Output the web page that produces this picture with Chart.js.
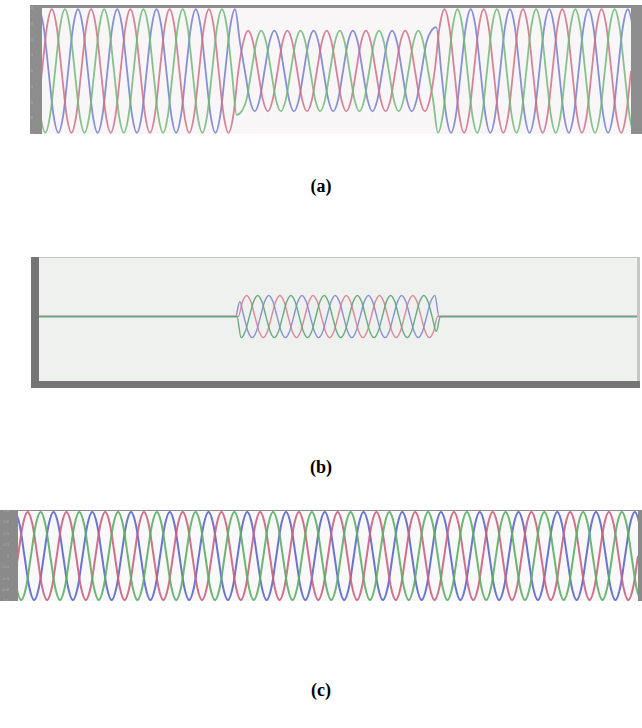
<!DOCTYPE html>
<html>
<head>
<meta charset="utf-8">
<script src="https://cdn.jsdelivr.net/npm/chart.js@4.4.1/dist/chart.umd.min.js"></script>
<style>
  body { margin: 0; width: 642px; height: 728px; background: #fff; position: relative; overflow: hidden; }
  .panel { position: absolute; }
  .panel canvas { display: block; }
</style>
</head>
<body>
<div class="panel" style="left:30px;top:5px;width:612px;height:129px;background:#8d8d8d">
  <canvas id="chartA" width="612" height="129"></canvas>
</div>
<div style="position:absolute;left:0;width:642px;text-align:center;top:176px;font-family:'Liberation Serif';font-weight:bold;font-size:18px">(a)</div>

<div class="panel" style="left:31px;top:257px;width:609px;height:131px;background:#c6c6c6">
  <canvas id="chartB" width="609" height="131"></canvas>
</div>
<div style="position:absolute;left:0;width:642px;text-align:center;top:457px;font-family:'Liberation Serif';font-weight:bold;font-size:18px">(b)</div>

<div class="panel" style="left:0px;top:510px;width:642px;height:91px;background:#8a8a8a">
  <canvas id="chartC" width="642" height="91"></canvas>
</div>
<div style="position:absolute;left:0;width:642px;text-align:center;top:680px;font-family:'Liberation Serif';font-weight:bold;font-size:18px">(c)</div>

<script>
// three phases
const phases = ['A', 'B', 'C'];
const phaseAngles = [0, -120, 120];
// one cycle, read at eighth-cycle points
const waveShape = [0, 0.71, 1, 0.71, 0, -0.71, -1, -0.71];

// (a) supply voltage with sag
const freqA = 50;
const segTimesA = [0, 0.1, 0.2, 0.3];
const segAmpA = [0.98, 0.64, 0.98];

// (b) injected voltage
const freqB = 60;
const segTimesB = [0, 0.1, 0.2, 0.3];
const segAmpB = [0, 0.36, 0];

// (c) load voltage
const freqC = 50;
const segTimesC = [0, 0.32];
const segAmpC = [0.98];

function ampAt(t, segTimes, segAmp) {
    for (let i = 0; i < segAmp.length; i++) {
        if (t < segTimes[i + 1]) return segAmp[i];
    }
    return segAmp[segAmp.length - 1];
}

function buildSeries(freq, segTimes, segAmp, angle) {
    const T = 1 / freq;
    const n = waveShape.length;
    const step = T / n;
    const shift = -angle / 360 * T;
    const tEnd = segTimes[segTimes.length - 1];
    const pts = [];
    for (let k = -2 * n; ; k++) {
        const t = shift + k * step;
        if (t > tEnd + T) break;
        const a = ampAt(Math.max(t, 0), segTimes, segAmp);
        pts.push({ x: t, y: a * waveShape[((k % n) + n) % n] });
    }
    return pts;
}

// plot background + dark strips left/bottom of the plot
const plotBg = {
    id: 'plotBg',
    beforeDraw(chart, args, o) {
        const { ctx, chartArea: a, width, height } = chart;
        ctx.save();
        if (o.strip) {
            ctx.fillStyle = o.strip;
            ctx.fillRect(0, 0, a.left, height);
            ctx.fillRect(0, a.bottom, width, height - a.bottom);
        }
        ctx.fillStyle = o.color;
        ctx.fillRect(a.left, a.top, a.right - a.left, a.bottom - a.top);
        ctx.restore();
    }
};

function makeChart(id, cfg) {
    const datasets = phases.map((name, i) => ({
        label: name,
        data: buildSeries(cfg.freq, cfg.segTimes, cfg.segAmp, phaseAngles[i]),
        borderColor: cfg.colors[i],
        borderWidth: cfg.lineWidth,
        pointRadius: 0,
        cubicInterpolationMode: 'monotone',
        order: [1, 0, 2][i]
    }));
    const tEnd = cfg.segTimes[cfg.segTimes.length - 1];
    return new Chart(document.getElementById(id), {
        type: 'line',
        data: { datasets: datasets },
        options: {
            responsive: false,
            animation: false,
            devicePixelRatio: 1,
            layout: { padding: cfg.padding },
            plugins: {
                legend: { display: false },
                tooltip: { enabled: false },
                plotBg: { color: cfg.bg, strip: cfg.strip }
            },
            scales: {
                x: {
                    type: 'linear', min: 0, max: tEnd,
                    display: cfg.xAxis,
                    grid: { display: false }, border: { display: false },
                    ticks: { stepSize: 0.05, font: { size: 4 }, color: '#a5a5a5', padding: 1, maxRotation: 0 },
                    afterFit: s => { s.height = cfg.xHeight; s.paddingLeft = 0; s.paddingRight = 0; }
                },
                y: {
                    min: cfg.yMin, max: cfg.yMax,
                    grid: { display: false }, border: { display: false },
                    ticks: { stepSize: 0.25, font: { size: 4 }, color: '#adadad', padding: 1 },
                    afterFit: s => { s.width = cfg.yWidth; s.paddingTop = 0; s.paddingBottom = 0; }
                }
            }
        },
        plugins: [plotBg]
    });
}

makeChart('chartA', {
    freq: freqA, segTimes: segTimesA, segAmp: segAmpA,
    colors: ['rgba(208,110,134,0.85)', 'rgba(112,184,120,0.85)', 'rgba(116,124,206,0.85)'],
    lineWidth: 1.8, bg: '#f8f6f7',
    padding: { top: 3, right: 11, bottom: 0, left: 0 },
    xAxis: false, xHeight: 0, yWidth: 12, yMin: -1, yMax: 1
});

makeChart('chartB', {
    freq: freqB, segTimes: segTimesB, segAmp: segAmpB,
    colors: ['rgba(210,120,140,0.85)', 'rgb(104,170,128)', 'rgba(118,128,206,0.85)'],
    lineWidth: 1.4, bg: '#eef1ed', strip: '#757575',
    padding: { top: 1, right: 3, bottom: 0, left: 0 },
    xAxis: true, xHeight: 7, yWidth: 8, yMin: -1.1, yMax: 1.0
});

makeChart('chartC', {
    freq: freqC, segTimes: segTimesC, segAmp: segAmpC,
    colors: ['rgba(204,96,126,0.9)', 'rgba(92,174,100,0.9)', 'rgba(92,102,200,0.9)'],
    lineWidth: 2, bg: '#f9f9f9',
    padding: { top: 1, right: 4, bottom: 0, left: 0 },
    xAxis: false, xHeight: 0, yWidth: 18, yMin: -1, yMax: 1
});
</script>
</body>
</html>
